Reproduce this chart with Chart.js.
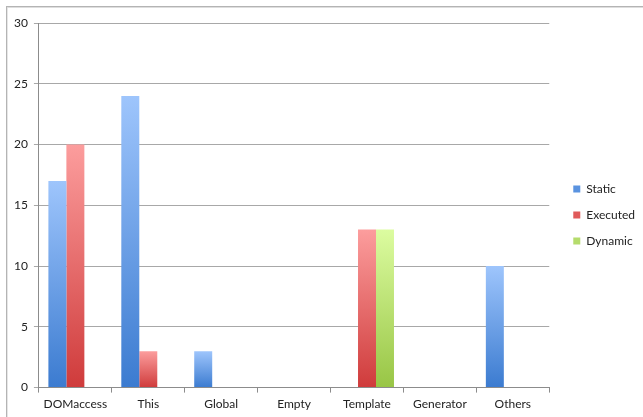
<!DOCTYPE html>
<html>
<head>
<meta charset="utf-8">
<script src="https://cdn.jsdelivr.net/npm/chart.js@4/dist/chart.umd.min.js"></script>
<style>
  html, body { margin: 0; padding: 0; background: #fff; }
  #wrap { position: relative; width: 643px; height: 417px; }
  #frame { position: absolute; left: 6px; top: 6px; right: 0; bottom: 0;
           border-top: 1px solid #b4b4b4; border-left: 1px solid #b4b4b4;
           box-shadow: inset 0 1px 0 #dedede, inset 1px 0 0 #e6e6e6; pointer-events: none; }
  canvas { position: absolute; left: 0; top: 0; }
</style>
</head>
<body>
<div id="wrap">
  <canvas id="c" width="643" height="417"></canvas>
  <div id="frame"></div>
</div>
<script>
// Categories and series
const categories = ['DOMaccess', 'This', 'Global', 'Empty', 'Template', 'Generator', 'Others'];
const staticCounts   = [17, 24, 3, 0, 0, 0, 10];
const executedCounts = [20, 3, 0, 0, 13, 0, 0];
const dynamicCounts  = [0, 0, 0, 0, 13, 0, 0];
const yTicks = [0, 5, 10, 15, 20, 25, 30];

// Vertical gradient per bar: light at the top, deeper at the base
function barGradient(top, bottom) {
  return function (ctx) {
    const chart = ctx.chart;
    if (!chart.chartArea || ctx.raw === undefined) return bottom;
    const y = chart.scales.y;
    const y0 = y.getPixelForValue(ctx.raw);
    const y1 = y.getPixelForValue(0);
    if (y1 - y0 < 1) return bottom;
    const g = chart.ctx.createLinearGradient(0, y0, 0, y1);
    g.addColorStop(0, top);
    g.addColorStop(1, bottom);
    return g;
  };
}

const FONT = "Lato, 'DejaVu Sans', sans-serif";
const FSIZE = 12;

new Chart(document.getElementById('c'), {
  type: 'bar',
  data: {
    labels: categories,
    datasets: [
      { label: 'Static',   data: staticCounts,   backgroundColor: barGradient('#9ec5fc', '#3b7bd0') },
      { label: 'Executed', data: executedCounts, backgroundColor: barGradient('#fc9d9d', '#cf3b3b') },
      { label: 'Dynamic',  data: dynamicCounts,  backgroundColor: barGradient('#dcfca0', '#98c545') }
    ]
  },
  options: {
    responsive: false,
    animation: false,
    devicePixelRatio: 1,
    layout: { padding: { left: 8, top: 23, right: -2, bottom: 2 } },
    datasets: { bar: { categoryPercentage: 0.74, barPercentage: 1.0, borderWidth: 0 } },
    plugins: {
      tooltip: { enabled: false },
      legend: {
        position: 'right',
        align: 'start',
        // blank title used as a top spacer for the legend column
        title: { display: true, text: '', font: { size: 10, lineHeight: 1 }, padding: { top: 136, bottom: 0 } },
        labels: {
          boxWidth: 7, boxHeight: 7, padding: 14,
          color: '#222', font: { family: FONT, size: FSIZE },
          generateLabels(chart) {
            const solid = ['#5a93e0', '#e05a5a', '#b5dc6c'];
            return chart.data.datasets.map((d, i) => ({
              text: d.label, fillStyle: solid[i], strokeStyle: solid[i], lineWidth: 0,
              hidden: false, datasetIndex: i, fontColor: '#222'
            }));
          }
        }
      }
    },
    scales: {
      x: {
        grid: { display: true, drawOnChartArea: false, offset: true, tickLength: 5, color: '#8c8c8c' },
        border: { color: '#8c8c8c' },
        ticks: { color: '#222', font: { family: FONT, size: FSIZE }, padding: 4, maxRotation: 0 }
      },
      y: {
        min: 0, max: 30,
        afterBuildTicks(axis) { axis.ticks = yTicks.map(v => ({ value: v })); },
        grid: { color: '#a8a8a8', tickLength: 5 },
        border: { color: '#8c8c8c' },
        ticks: { color: '#222', font: { family: FONT, size: FSIZE }, padding: 6 }
      },
      // empty spacer between the plot and the legend
      gap: {
        position: 'right', type: 'linear', min: 0, max: 1,
        grid: { display: false }, border: { display: false }, ticks: { display: false },
        afterFit(scale) { scale.width = 10; }
      }
    }
  }
});
</script>
</body>
</html>
